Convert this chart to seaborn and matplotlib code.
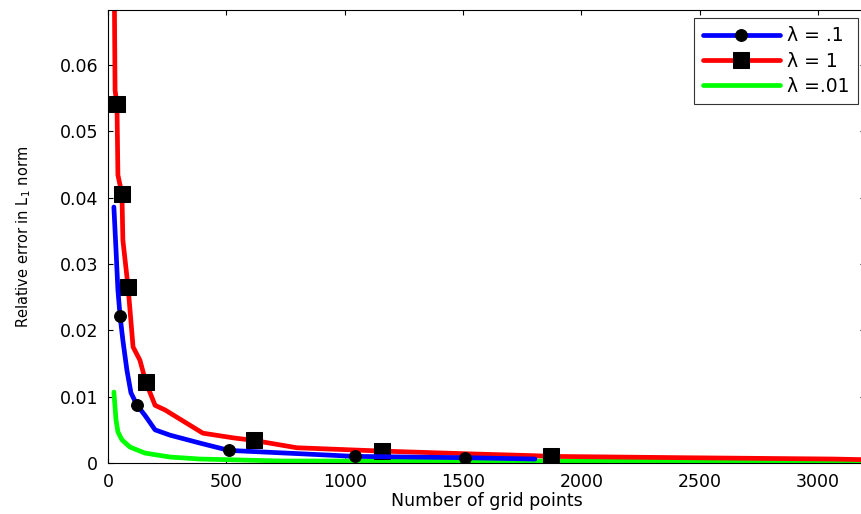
import numpy as np
import pandas as pd
import matplotlib
matplotlib.use("Agg")
import matplotlib.pyplot as plt
import seaborn as sns

# ---------- data ----------
labels = ["\u03bb = .1", "\u03bb = 1", "\u03bb =.01"]

x_blue = [25, 34, 42, 51, 63, 80, 97, 123, 156, 199, 262, 389, 511, 811, 1043, 1508, 1804]
y_blue = [0.0386, 0.0321, 0.0261, 0.0222, 0.0185, 0.0140, 0.0106, 0.0087, 0.0072,
          0.0050, 0.0042, 0.0030, 0.0019, 0.0014, 0.0010, 0.0008, 0.0006]
mark_blue = [3, 7, 12, 14, 15]

x_red = [25, 30, 38, 42, 59, 63, 85, 93, 106, 135, 160, 199, 241, 401, 528, 617,
         798, 1158, 1508, 1804, 1872, 2430, 3063, 3200]
y_red = [0.0800, 0.0562, 0.0541, 0.0434, 0.0406, 0.0336, 0.0265, 0.0231, 0.0175,
         0.0155, 0.0122, 0.0087, 0.0080, 0.0045, 0.0038, 0.0034, 0.0023, 0.0018,
         0.0014, 0.0011, 0.0010, 0.0008, 0.0006, 0.0005]
mark_red = [2, 4, 6, 10, 15, 17, 20]

x_green = [25, 34, 42, 59, 93, 156, 262, 389, 739, 3200]
y_green = [0.0107, 0.0065, 0.0047, 0.0035, 0.0024, 0.0015, 0.0009, 0.0006, 0.0003, 0.0003]

# ---------- style ----------
sns.set_style("ticks")
plt.rcParams["font.family"] = ["DejaVu Sans"]
plt.rcParams["mathtext.fontset"] = "dejavusans"
plt.rcParams["text.color"] = "black"
plt.rcParams["axes.labelcolor"] = "black"
plt.rcParams["xtick.color"] = "black"
plt.rcParams["ytick.color"] = "black"

fig = plt.figure(figsize=(8.61, 5.14), dpi=100)
ax = fig.add_axes([0.1254, 0.0992, 0.8797, 0.8813])

# (x, y, colour, marker, size, markevery, label, zorder)
series = [
    (x_blue, y_blue, "blue", "o", 8.5, mark_blue, labels[0], 2.2),
    (x_red, y_red, "red", "s", 11, mark_red, labels[1], 2.1),
    (x_green, y_green, "lime", None, 0, None, labels[2], 1.9),
]
for xs, ys, color, marker, ms, every, lab, z in series:
    df = pd.DataFrame({"x": xs, "y": ys})
    kw = {}
    if marker:
        kw = dict(marker=marker, markersize=ms, markevery=every,
                  markerfacecolor="black", markeredgecolor="black")
    sns.lineplot(data=df, x="x", y="y", color=color, linewidth=3.4, zorder=z,
                 label=lab, ax=ax, estimator=None, sort=False, **kw)

ax.set_xlim(0, 3200)
ax.set_ylim(0, 0.0683)
ax.set_xticks(np.arange(0, 3001, 500))
ax.set_yticks(np.arange(0, 0.061, 0.01))
ax.set_yticklabels(["0", "0.01", "0.02", "0.03", "0.04", "0.05", "0.06"])
ax.tick_params(direction="in", top=True, right=True, labelsize=12.5, length=3.6, width=0.8)
ax.tick_params(axis="x", pad=7)
ax.tick_params(axis="y", pad=7)
for s in ax.spines.values():
    s.set_linewidth(0.8)
    s.set_color("black")

ax.set_xlabel("Number of grid points", fontsize=12.5, labelpad=1)
ax.set_ylabel(r"Relative error in L$_1$ norm", fontsize=10.5, labelpad=19)

leg = ax.legend(loc="upper right", bbox_to_anchor=(858 / 861, 1 - 18 / 514),
                bbox_transform=fig.transFigure, fontsize=13.5, handlelength=4.1,
                frameon=True, fancybox=False, edgecolor="black", borderpad=0.45,
                labelspacing=0.33, handletextpad=0.4, borderaxespad=0)
leg.get_frame().set_linewidth(0.8)

fig.savefig("out.png", dpi=100)
